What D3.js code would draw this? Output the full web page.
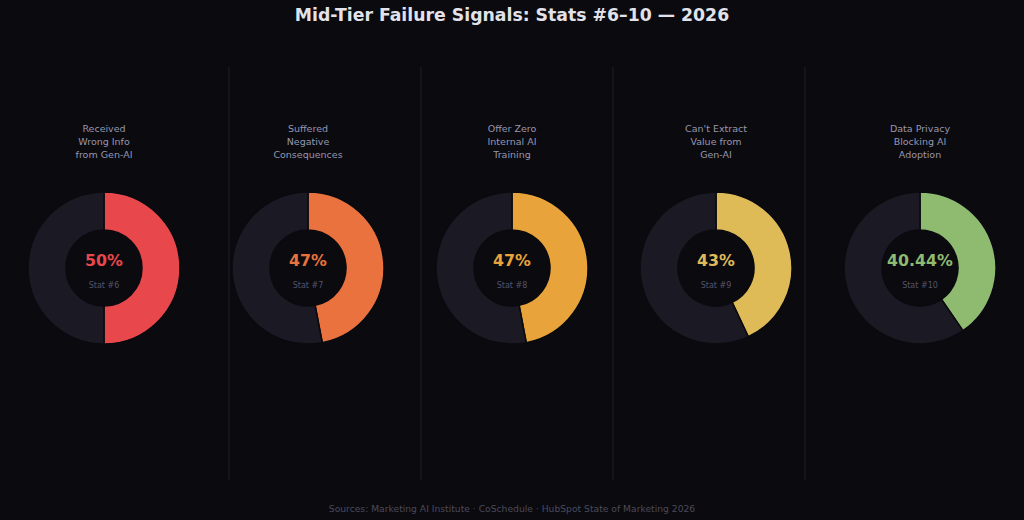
<!DOCTYPE html>
<html>
<head>
<meta charset="utf-8">
<script src="https://cdn.jsdelivr.net/npm/d3@7"></script>
<style>
  body { margin: 0; background: #0a0a0f; }
  svg { display: block; font-family: "DejaVu Sans", sans-serif; }
</style>
</head>
<body>
<div id="chart"></div>
<script>
// stat data
const labels = [
    ["Received", "Wrong Info", "from Gen-AI"],
    ["Suffered", "Negative", "Consequences"],
    ["Offer Zero", "Internal AI", "Training"],
    ["Can't Extract", "Value from", "Gen-AI"],
    ["Data Privacy", "Blocking AI", "Adoption"]
];
const values = [50, 47, 47, 43, 40.44];
const valueText = ["50%", "47%", "47%", "43%", "40.44%"];
const statNames = ["Stat #6", "Stat #7", "Stat #8", "Stat #9", "Stat #10"];
const colors = ["#e8484b", "#e9723e", "#e8a43b", "#dfbb58", "#8fbb70"];

const width = 1024, height = 520;
const svg = d3.select("#chart").append("svg")
    .attr("width", width)
    .attr("height", height);

svg.append("rect").attr("width", width).attr("height", height).attr("fill", "#0a0a0f");

svg.append("text")
    .attr("x", width / 2).attr("y", 21)
    .attr("text-anchor", "middle")
    .attr("fill", "#e2e2ea")
    .attr("font-size", 17.3)
    .attr("font-weight", "bold")
    .text("Mid-Tier Failure Signals: Stats #6\u201310 \u2014 2026");

// panel positions
const cx = d3.scalePoint().domain(d3.range(5)).range([104, 920]);
const sepX = d3.scalePoint().domain(d3.range(4)).range([229, 805]);

svg.selectAll("line.sep")
    .data(d3.range(4))
    .join("line")
    .attr("class", "sep")
    .attr("x1", d => sepX(d)).attr("x2", d => sepX(d))
    .attr("y1", 67).attr("y2", 480)
    .attr("stroke", "#1e1e26")
    .attr("stroke-width", 1);

const arc = d3.arc().innerRadius(38).outerRadius(76);
const pie = d3.pie().sort(null);

const cy = 268;

const panels = svg.selectAll("g.panel")
    .data(values)
    .join("g")
    .attr("class", "panel")
    .attr("transform", (d, i) => `translate(${cx(i)},${cy})`);

panels.selectAll("path")
    .data((d, i) => pie([d, 100 - d]).map(a => ({ a, i })))
    .join("path")
    .attr("d", d => arc(d.a))
    .attr("fill", d => d.a.index === 0 ? colors[d.i] : "#1a1924")
    .attr("stroke", "#0a0a0f")
    .attr("stroke-width", 1.5);

panels.append("text")
    .attr("y", -2)
    .attr("text-anchor", "middle")
    .attr("fill", (d, i) => colors[i])
    .attr("font-size", 15.8)
    .attr("font-weight", "bold")
    .text((d, i) => valueText[i]);

panels.append("text")
    .attr("y", 20)
    .attr("text-anchor", "middle")
    .attr("fill", "#55546a")
    .attr("font-size", 8)
    .text((d, i) => statNames[i]);

panels.each(function (d, i) {
    const t = d3.select(this).append("text")
        .attr("text-anchor", "middle")
        .attr("fill", "#9896ae")
        .attr("font-size", 9.5);
    labels[i].forEach((line, k) => {
        t.append("tspan")
            .attr("x", 0)
            .attr("y", -136 + k * 13)
            .text(line);
    });
});

svg.append("text")
    .attr("x", width / 2).attr("y", 512)
    .attr("text-anchor", "middle")
    .attr("fill", "#4a4a5c")
    .attr("font-size", 9.2)
    .text("Sources: Marketing AI Institute \u00b7 CoSchedule \u00b7 HubSpot State of Marketing 2026");
</script>
</body>
</html>
